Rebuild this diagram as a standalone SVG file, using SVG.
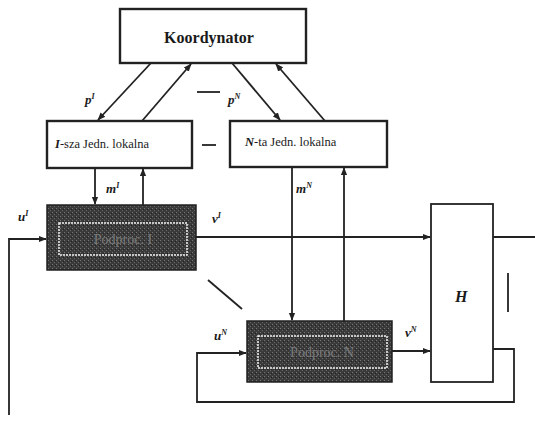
<svg xmlns="http://www.w3.org/2000/svg" width="535" height="427" viewBox="0 0 535 427">
<defs>
<marker id="ah" viewBox="0 0 10 10" refX="9" refY="5" markerWidth="4.5" markerHeight="4.5" orient="auto" markerUnits="strokeWidth">
<path d="M0,1 L10,5 L0,9 Z" fill="#222"/>
</marker>
<pattern id="grain" width="4" height="4" patternUnits="userSpaceOnUse">
<rect width="4" height="4" fill="#3a3a3a"/>
<rect x="0" y="0" width="1" height="1" fill="#777"/>
<rect x="2" y="2" width="1" height="1" fill="#666"/>
<rect x="3" y="1" width="1" height="1" fill="#222"/>
</pattern>
<style>
.box{fill:#fff;stroke:#222;stroke-width:2.4}
.proc{fill:url(#grain);stroke:#222;stroke-width:1.5}
.inner{fill:none;stroke:#f4f4f4;stroke-width:1.5;stroke-dasharray:2 1}
.ln{fill:none;stroke:#222;stroke-width:1.8}
.ar{fill:none;stroke:#222;stroke-width:1.8;marker-end:url(#ah)}
.t{font-family:"Liberation Serif",serif;fill:#1a1a1a}
.lab{font-family:"Liberation Serif",serif;font-style:italic;font-weight:bold;font-size:13px;fill:#1a1a1a}
.sup{font-size:8px}
.pt{font-family:"Liberation Serif",serif;font-size:14px;fill:#7a7a7a}
</style>
</defs>
<g id="koordynator">
<rect class="box" x="120" y="9" width="186" height="54"/>
<text class="t" x="209" y="43" text-anchor="middle" font-size="16" font-weight="bold">Koordynator</text>
</g>
<g id="jedn1">
<rect class="box" x="47" y="121" width="145" height="47"/>
<text class="t" x="55" y="148" font-size="12.5"><tspan font-style="italic" font-weight="bold">I</tspan>-sza Jedn. lokalna</text>
</g>
<g id="jednN">
<rect class="box" x="230" y="121" width="157" height="46"/>
<text class="t" x="245" y="146" font-size="12.5"><tspan font-style="italic" font-weight="bold">N</tspan>-ta Jedn. lokalna</text>
</g>
<g id="proc1">
<rect class="proc" x="47" y="205" width="149" height="65"/>
<rect class="inner" x="59" y="223" width="128" height="32"/>
<text class="pt" x="123" y="244" text-anchor="middle">Podproc. I</text>
</g>
<g id="procN">
<rect class="proc" x="247" y="321" width="145" height="61"/>
<rect class="inner" x="258" y="336" width="129" height="32"/>
<text class="pt" x="322" y="357" text-anchor="middle">Podproc. N</text>
</g>
<g id="H">
<rect x="431" y="204" width="62" height="178" fill="#fff" stroke="#222" stroke-width="1.8"/>
<text class="lab" x="455" y="302" style="font-size:16px">H</text>
</g>
<g id="connectors">
<line class="ar" x1="151" y1="63" x2="98" y2="120"/>
<line class="ar" x1="142" y1="121" x2="191" y2="64"/>
<line class="ar" x1="232" y1="63" x2="280" y2="120"/>
<line class="ar" x1="325" y1="121" x2="276" y2="64"/>
<line class="ar" x1="95" y1="168" x2="95" y2="204"/>
<line class="ar" x1="143" y1="205" x2="143" y2="169"/>
<line class="ar" x1="292" y1="167" x2="292" y2="320"/>
<line class="ar" x1="344" y1="321" x2="344" y2="168"/>
<polyline class="ar" points="9,415 9,239 46,239"/>
<line class="ar" x1="196" y1="237" x2="430" y2="237"/>
<line class="ln" x1="493" y1="237" x2="535" y2="237"/>
<line class="ar" x1="392" y1="351" x2="430" y2="351"/>
<polyline class="ar" points="493,349 514,349 514,402 197,402 197,353 246,353"/>
<line class="ln" x1="197" y1="92" x2="220" y2="92"/>
<line class="ln" x1="202" y1="145" x2="216" y2="145"/>
<line class="ln" x1="208" y1="280" x2="242" y2="309"/>
<line class="ln" x1="508" y1="273" x2="508" y2="312"/>
</g>
<g id="labels">
<text class="lab" x="85" y="104">p<tspan class="sup" dy="-5">I</tspan></text>
<text class="lab" x="228" y="104">p<tspan class="sup" dy="-5">N</tspan></text>
<text class="lab" x="106" y="193">m<tspan class="sup" dy="-5">I</tspan></text>
<text class="lab" x="296" y="193">m<tspan class="sup" dy="-5">N</tspan></text>
<text class="lab" x="18" y="221">u<tspan class="sup" dy="-5">I</tspan></text>
<text class="lab" x="212" y="223">v<tspan class="sup" dy="-5">I</tspan></text>
<text class="lab" x="214" y="340">u<tspan class="sup" dy="-5">N</tspan></text>
<text class="lab" x="405" y="337">v<tspan class="sup" dy="-5">N</tspan></text>
</g>
</svg>
